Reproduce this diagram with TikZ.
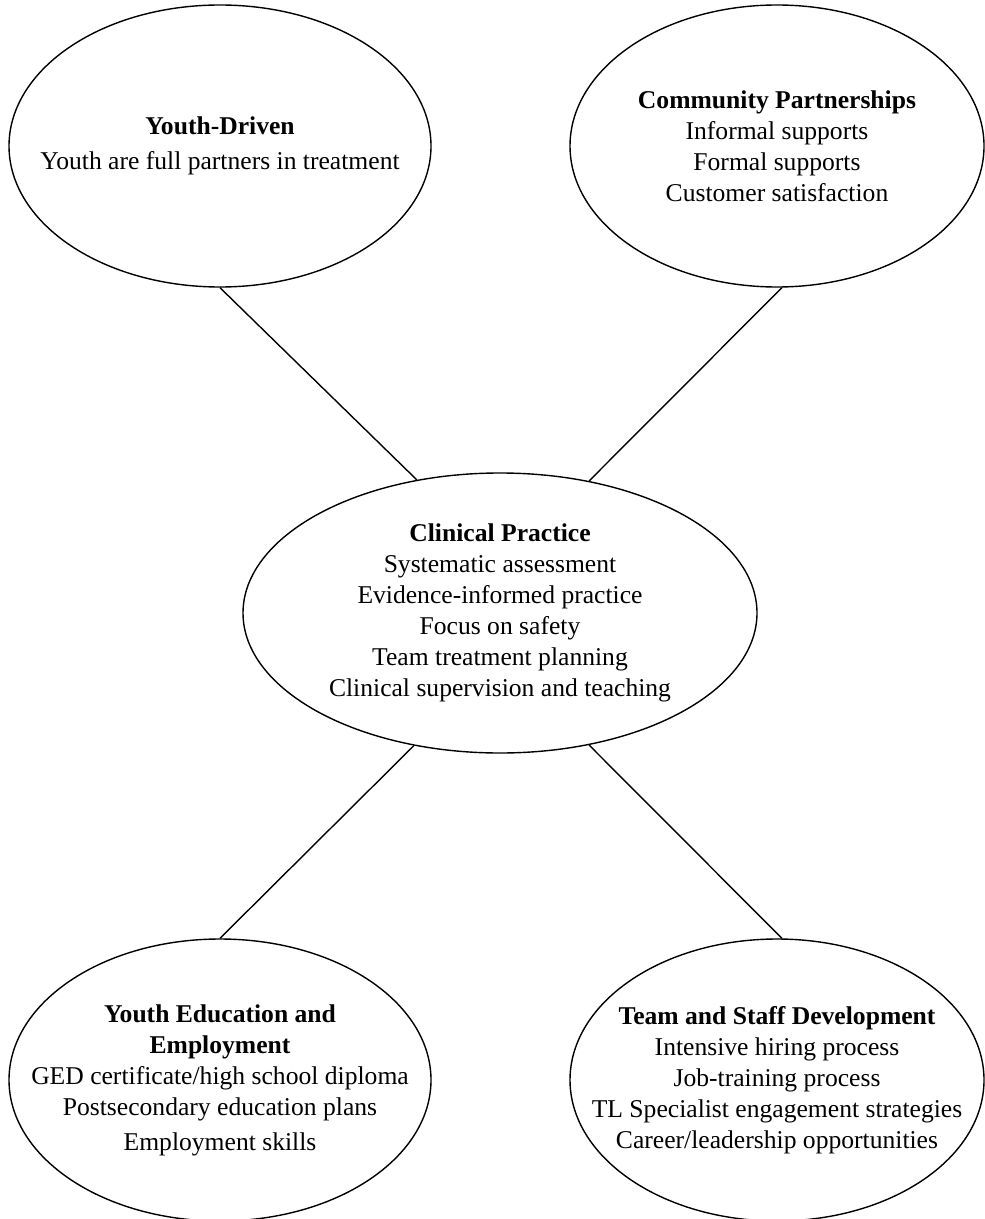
\documentclass[tikz,border=0pt]{standalone}
\usepackage{fontspec}
\setmainfont{Liberation Serif}
\usetikzlibrary{shapes.geometric}

\begin{document}
\begin{tikzpicture}[x=0.5pt,y=-0.5pt]
        \tikzstyle{blob}=[draw,ellipse,line width=0.7pt,inner sep=0pt,minimum width=207pt,minimum height=141pt]
        \tikzstyle{body}=[align=center,inner sep=0pt,font=\fontsize{12.8}{15.5}\selectfont]
        \useasboundingbox (0,0) rectangle (984,1219);
        \node[blob,minimum width=211pt,label={[body]center:{\textbf{Youth-Driven}\\[2pt]Youth are full partners in treatment}}] (yd) at (220,146) {};
        \node[blob,label={[body]center:{\textbf{Community Partnerships}\\Informal supports\\Formal supports\\Customer satisfaction}}] (cpart) at (777,146) {};
        \node[blob,minimum width=257pt,minimum height=140pt,label={[body]center:{\textbf{Clinical Practice}\\Systematic assessment\\Evidence-informed practice\\Focus on safety\\Team treatment planning\\Clinical supervision and teaching}}] (clin) at (500,613) {};
        \node[blob,minimum width=211pt,label={[body]center:{\textbf{Youth Education and}\\\textbf{Employment}\\GED certificate/high school diploma\\Postsecondary education plans\\[2pt]Employment skills}}] (yee) at (220,1080) {};
        \node[blob,label={[body]center:{\textbf{Team and Staff Development}\\Intensive hiring process\\Job-training process\\TL Specialist engagement strategies\\Career/leadership opportunities}}] (tsd) at (777,1080) {};
        \draw[line width=0.7pt] (yd.south) -- (clin.122);
        \draw[line width=0.7pt] (cpart.272) -- (clin.56);
        \draw[line width=0.7pt] (clin.237) -- (yee.north);
        \draw[line width=0.7pt] (clin.304) -- (tsd.88);
    \end{tikzpicture}
\end{document}
